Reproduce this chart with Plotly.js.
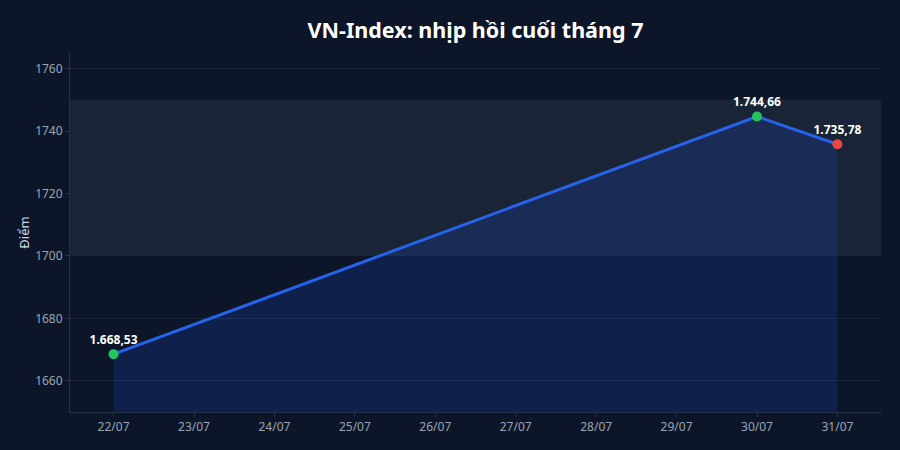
<!DOCTYPE html>
<html>
<head>
<meta charset="utf-8">
<script src="https://cdn.plot.ly/plotly-3.0.1.min.js"></script>
<style>
  html, body { margin: 0; padding: 0; background: #0c1628; }
  #plot { width: 900px; height: 450px; }
</style>
</head>
<body>
<div id="plot"></div>
<script>
// VN-Index close, late July
const dates = ['2025-07-22', '2025-07-30', '2025-07-31'];
const closes = [1668.53, 1744.66, 1735.78];
const pointColors = ['#22c55e', '#22c55e', '#ef4444'];
const bandLow = 1700;
const bandHigh = 1750;

const trace = {
  x: dates,
  y: closes,
  mode: 'lines+markers+text',
  fill: 'tozeroy',
  fillcolor: 'rgba(29,78,216,0.2)',
  line: {color: '#2563eb', width: 3},
  marker: {size: 10, color: pointColors},
  texttemplate: '%{y:,.2f}',
  textposition: 'top center',
  textfont: {family: 'Noto Sans', size: 12, color: '#ffffff', weight: 'bold'},
  hoverinfo: 'x+y',
  cliponaxis: false,
  showlegend: false
};

const layout = {
  width: 900,
  height: 450,
  separators: ',.',
  paper_bgcolor: '#0c1628',
  plot_bgcolor: '#0c1628',
  font: {family: 'Noto Sans', color: '#9aa5b5', size: 12},
  margin: {l: 70, r: 19, t: 53, b: 38},
  title: {
    text: 'VN-Index: nhịp hồi cuối tháng 7',
    xref: 'paper',
    x: 0.5,
    y: 0.95,
    font: {family: 'Noto Sans', size: 21.5, color: '#ffffff', weight: 'bold'}
  },
  xaxis: {
    type: 'date',
    range: ['2025-07-21 11:00', '2025-07-31 13:00'],
    dtick: 86400000,
    tick0: '2025-07-22',
    tickformat: '%d/%m',
    showgrid: false,
    showline: true,
    linecolor: '#263246',
    ticks: 'outside',
    ticklen: 4,
    tickcolor: '#263246',
    zeroline: false
  },
  yaxis: {
    range: [1650, 1765],
    dtick: 20,
    tick0: 1660,
    gridcolor: '#1c2638',
    showline: true,
    linecolor: '#263246',
    ticks: 'outside',
    ticklen: 4,
    tickcolor: '#263246',
    zeroline: false,
    title: {text: 'Điểm', font: {size: 13, color: '#cbd5e1'}, standoff: 2}
  },
  shapes: [{
    type: 'rect',
    xref: 'paper',
    yref: 'y',
    x0: 0,
    x1: 1,
    y0: bandLow,
    y1: bandHigh,
    fillcolor: 'rgba(148,163,184,0.1)',
    line: {width: 0},
    layer: 'below'
  }]
};

Plotly.newPlot('plot', [trace], layout, {displayModeBar: false, staticPlot: true});
</script>
</body>
</html>
